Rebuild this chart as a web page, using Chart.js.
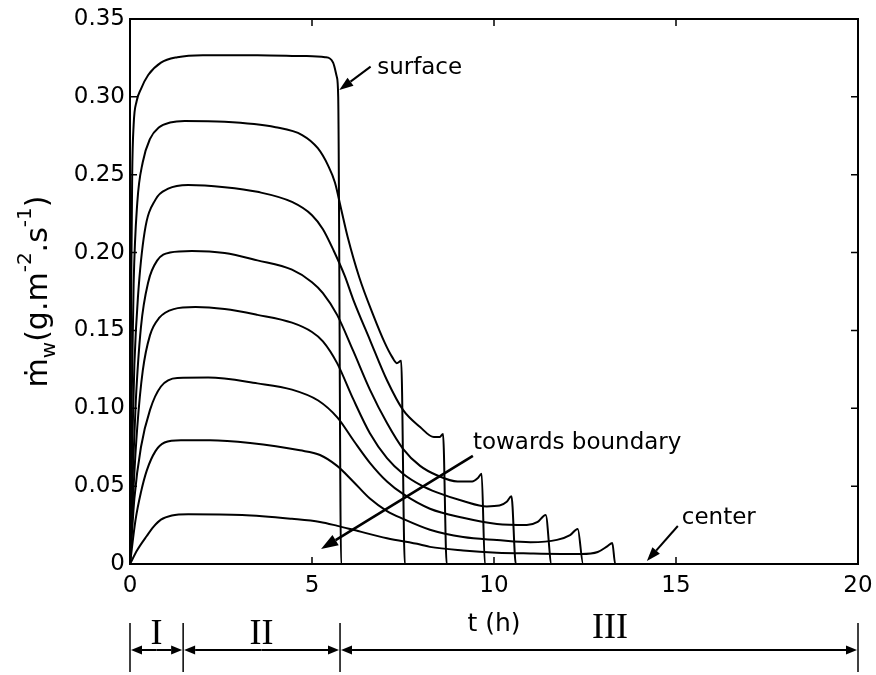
<!DOCTYPE html>
<html><head><meta charset="utf-8">
<script src="https://cdn.jsdelivr.net/npm/chart.js@4.4.1/dist/chart.umd.min.js"></script>
<style>html,body{margin:0;padding:0;background:#fff;}canvas{display:block;}</style>
</head><body>
<canvas id="c" width="876" height="675"></canvas>
<script>
// ---- tick values ----
const xTickValues = [0, 5, 10, 15, 20];
const yTickValues = [0, 0.05, 0.10, 0.15, 0.20, 0.25, 0.30, 0.35];

// ---- series: time (h) and flux (g.m-2.s-1), from surface (1) to center (8) ----
const curve1Time = [0, 0.03, 0.06, 0.1, 0.18, 0.3, 0.5, 0.85, 1.3, 2.0, 3.5, 4.8, 5.36, 5.58, 5.68, 5.72, 5.8, 20];
const curve1Flux = [0, 0.17, 0.25, 0.282, 0.297, 0.305, 0.314, 0.322, 0.3255, 0.3268, 0.3268, 0.3262, 0.3255, 0.322, 0.313, 0.300, 0, 0];

const curve2Time = [0, 0.05, 0.1, 0.2, 0.35, 0.55, 0.8, 1.1, 1.5, 2.6, 4.0, 4.73, 5.16, 5.44, 5.63, 5.8, 5.98, 6.3, 6.68, 7.0, 7.2, 7.33, 7.45, 7.55, 20];
const curve2Flux = [0, 0.11, 0.18, 0.232, 0.258, 0.273, 0.2805, 0.2835, 0.2845, 0.284, 0.2805, 0.2755, 0.267, 0.256, 0.245, 0.228, 0.210, 0.184, 0.160, 0.142, 0.133, 0.129, 0.1305, 0, 0];

const curve3Time = [0, 0.06, 0.12, 0.22, 0.4, 0.7, 1.05, 1.6, 2.6, 3.5, 4.45, 5.0, 5.3, 5.6, 5.9, 6.13, 6.59, 7.06, 7.5, 7.97, 8.35, 8.5, 8.6, 8.7, 20];
const curve3Flux = [0, 0.075, 0.128, 0.172, 0.213, 0.234, 0.241, 0.2434, 0.242, 0.239, 0.2325, 0.224, 0.215, 0.201, 0.185, 0.170, 0.144, 0.118, 0.099, 0.088, 0.0815, 0.0815, 0.0835, 0, 0];

const curve4Time = [0, 0.08, 0.16, 0.3, 0.5, 0.75, 1.1, 1.7, 2.6, 3.5, 4.45, 5.0, 5.3, 5.69, 6.13, 6.59, 7.06, 7.5, 7.97, 8.43, 9.0, 9.4, 9.55, 9.66, 9.75, 20];
const curve4Flux = [0, 0.06, 0.105, 0.152, 0.181, 0.195, 0.2, 0.201, 0.1997, 0.195, 0.189, 0.181, 0.174, 0.160, 0.137, 0.112, 0.0905, 0.074, 0.063, 0.057, 0.053, 0.053, 0.055, 0.058, 0, 0];

const curve5Time = [0, 0.1, 0.2, 0.35, 0.55, 0.8, 1.2, 1.8, 2.6, 3.5, 4.45, 5.0, 5.3, 5.69, 6.13, 6.59, 7.06, 7.5, 8.0, 8.43, 9.15, 9.8, 10.15, 10.35, 10.48, 10.6, 20];
const curve5Flux = [0, 0.05, 0.088, 0.124, 0.147, 0.158, 0.1637, 0.165, 0.1637, 0.160, 0.155, 0.149, 0.143, 0.129, 0.106, 0.084, 0.068, 0.058, 0.0505, 0.046, 0.0405, 0.037, 0.0375, 0.040, 0.0435, 0, 0];

const curve6Time = [0, 0.12, 0.3, 0.55, 0.85, 1.3, 2.15, 3.5, 4.45, 5.17, 5.7, 6.15, 6.59, 7.06, 7.5, 8.24, 9.15, 10.08, 10.9, 11.2, 11.42, 11.58, 20];
const curve6Flux = [0, 0.042, 0.075, 0.099, 0.114, 0.1195, 0.1197, 0.116, 0.112, 0.105, 0.094, 0.079, 0.065, 0.053, 0.045, 0.0355, 0.0297, 0.0257, 0.025, 0.027, 0.0315, 0, 0];

const curve7Time = [0, 0.15, 0.3, 0.46, 0.7, 0.95, 1.4, 2.2, 3.3, 4.67, 5.22, 5.69, 6.13, 6.59, 7.06, 7.5, 8.24, 9.15, 10.08, 11.0, 11.73, 12.09, 12.3, 12.45, 20];
const curve7Flux = [0, 0.028, 0.046, 0.060, 0.0725, 0.078, 0.0795, 0.0795, 0.0777, 0.073, 0.070, 0.063, 0.053, 0.042, 0.034, 0.029, 0.022, 0.0173, 0.0154, 0.014, 0.0155, 0.0186, 0.0225, 0, 0];

const curve8Time = [0, 0.2, 0.46, 0.65, 0.85, 1.15, 1.6, 3.08, 4.45, 5.22, 5.7, 6.13, 7.06, 7.97, 8.24, 9.15, 10.08, 11.0, 12.4, 12.85, 13.12, 13.25, 13.33, 20];
const curve8Flux = [0, 0.009, 0.018, 0.024, 0.0285, 0.0312, 0.032, 0.0315, 0.029, 0.027, 0.0245, 0.022, 0.0165, 0.0125, 0.011, 0.0087, 0.0073, 0.0068, 0.0064, 0.0077, 0.0115, 0.0135, 0, 0];

// ---- drying phases (h) ----
const phaseBounds = [0, 1.46, 5.77, 20];
const phaseLabels = ['I', 'II', 'III'];

// ---- annotations (data coordinates) ----
const notes = [
  {text: 'surface', at: [6.79, 0.3147], from: [6.61, 0.3194], to: [5.75, 0.3044], head: [14, 10], lw: 2},
  {text: 'towards boundary', at: [9.42, 0.0739], from: [9.42, 0.0694], to: [5.25, 0.0096], head: [17, 12], lw: 2.6},
  {text: 'center', at: [15.16, 0.0257], from: [15.05, 0.0244], to: [14.2, 0.0019], head: [14, 10], lw: 2}
];

const curves = [
  [curve1Time, curve1Flux], [curve2Time, curve2Flux], [curve3Time, curve3Flux], [curve4Time, curve4Flux],
  [curve5Time, curve5Flux], [curve6Time, curve6Flux], [curve7Time, curve7Flux], [curve8Time, curve8Flux]
];

const FONT = "'DejaVu Sans', 'Liberation Sans', Arial, sans-serif";

function arrow(ctx, x1, y1, x2, y2, headLen, headW, lw) {
  const ang = Math.atan2(y2 - y1, x2 - x1);
  const bx = x2 - headLen * Math.cos(ang), by = y2 - headLen * Math.sin(ang);
  ctx.lineWidth = lw;
  ctx.beginPath(); ctx.moveTo(x1, y1); ctx.lineTo(bx, by); ctx.stroke();
  ctx.beginPath(); ctx.moveTo(x2, y2);
  ctx.lineTo(bx + headW / 2 * Math.sin(ang), by - headW / 2 * Math.cos(ang));
  ctx.lineTo(bx - headW / 2 * Math.sin(ang), by + headW / 2 * Math.cos(ang));
  ctx.closePath(); ctx.fill();
}

const decor = {
  id: 'decor',
  afterDraw(chart) {
    const {ctx, chartArea: a, scales: {x, y}} = chart;
    ctx.save();
    ctx.strokeStyle = '#000'; ctx.fillStyle = '#000';
    // box
    ctx.lineWidth = 2;
    ctx.strokeRect(a.left, a.top, a.right - a.left, a.bottom - a.top);
    // inward ticks on all sides
    ctx.lineWidth = 1.5;
    x.ticks.forEach(t => {
      const px = x.getPixelForValue(t.value);
      ctx.beginPath();
      ctx.moveTo(px, a.bottom); ctx.lineTo(px, a.bottom - 7);
      ctx.moveTo(px, a.top); ctx.lineTo(px, a.top + 7);
      ctx.stroke();
    });
    y.ticks.forEach(t => {
      const py = y.getPixelForValue(t.value);
      ctx.beginPath();
      ctx.moveTo(a.left, py); ctx.lineTo(a.left + 7, py);
      ctx.moveTo(a.right, py); ctx.lineTo(a.right - 7, py);
      ctx.stroke();
    });
    // annotations
    ctx.font = '23px ' + FONT;
    ctx.textBaseline = 'alphabetic'; ctx.textAlign = 'left';
    notes.forEach(n => {
      ctx.fillText(n.text, x.getPixelForValue(n.at[0]), y.getPixelForValue(n.at[1]));
      arrow(ctx, x.getPixelForValue(n.from[0]), y.getPixelForValue(n.from[1]),
        x.getPixelForValue(n.to[0]), y.getPixelForValue(n.to[1]), n.head[0], n.head[1], n.lw);
    });
    // phases below axis
    const barTop = a.bottom + 59, barBot = a.bottom + 108, ay = a.bottom + 86;
    const px = phaseBounds.map(v => x.getPixelForValue(v));
    ctx.lineWidth = 1.5;
    px.forEach(p => { ctx.beginPath(); ctx.moveTo(p, barTop); ctx.lineTo(p, barBot); ctx.stroke(); });
    for (let i = 0; i < px.length - 1; i++) {
      const l = px[i] + 1, r = px[i + 1] - 1, m = (l + r) / 2;
      arrow(ctx, m, ay, l, ay, 11, 9, 2);
      arrow(ctx, m, ay, r, ay, 11, 9, 2);
    }
    ctx.font = '36px "Liberation Serif", "DejaVu Serif", serif';
    ctx.textAlign = 'center'; ctx.textBaseline = 'alphabetic';
    const labelX = [(px[0] + px[1]) / 2, (px[1] + px[2]) / 2, (px[2] + px[3]) / 2 + 11];
    const labelY = [a.bottom + 80, a.bottom + 80, a.bottom + 74];
    phaseLabels.forEach((s, i) => ctx.fillText(s, labelX[i], labelY[i]));
    // y-axis title with sub/superscripts
    const F = 30;
    const segs = [
      {t: '\u1E41', s: 1, dy: 0}, {t: 'w', s: 0.65, dy: 0.28}, {t: '(g.m', s: 1, dy: 0},
      {t: '-2', s: 0.65, dy: -0.55}, {t: '.s', s: 1, dy: 0}, {t: '-1', s: 0.65, dy: -0.55}, {t: ')', s: 1, dy: 0}
    ];
    let total = 0;
    segs.forEach(sg => { ctx.font = Math.round(F * sg.s) + 'px ' + FONT; sg.w = ctx.measureText(sg.t).width; total += sg.w; });
    ctx.translate(47, (a.top + a.bottom) / 2);
    ctx.rotate(-Math.PI / 2);
    ctx.textAlign = 'left';
    let cx = -total / 2;
    segs.forEach(sg => {
      ctx.font = Math.round(F * sg.s) + 'px ' + FONT;
      ctx.fillText(sg.t, cx, sg.dy * F);
      cx += sg.w;
    });
    ctx.restore();
  }
};

new Chart(document.getElementById('c'), {
  type: 'line',
  data: {
    datasets: curves.map(([ts, vs]) => ({
      data: ts.map((t, i) => ({x: t, y: vs[i]})),
      borderColor: '#000', borderWidth: 2, pointRadius: 0, fill: false,
      cubicInterpolationMode: 'monotone'
    }))
  },
  options: {
    responsive: false, animation: false, devicePixelRatio: 1,
    layout: {padding: {top: 19, right: 18, left: 0, bottom: 0}},
    plugins: {legend: {display: false}, tooltip: {enabled: false}},
    scales: {
      x: {
        type: 'linear', min: 0, max: 20,
        afterBuildTicks: s => { s.ticks = xTickValues.map(v => ({value: v})); },
        afterFit: s => { s.height = 111; s.paddingLeft = 0; s.paddingRight = 0; },
        grid: {display: false, drawTicks: false}, border: {display: false},
        ticks: {color: '#000', font: {size: 23, family: FONT}, padding: 8, maxRotation: 0,
          callback: v => String(v)},
        title: {display: true, text: 't (h)', color: '#000', font: {size: 25, family: FONT},
          padding: {top: 0, bottom: 36}}
      },
      y: {
        type: 'linear', min: 0, max: 0.35,
        afterBuildTicks: s => { s.ticks = yTickValues.map(v => ({value: v})); },
        afterFit: s => { s.width = 130; s.paddingTop = 0; s.paddingBottom = 0; },
        grid: {display: false, drawTicks: false}, border: {display: false},
        ticks: {color: '#000', font: {size: 23, family: FONT}, padding: 5,
          callback: v => (v === 0 ? '0' : v.toFixed(2))}
      }
    }
  },
  plugins: [decor]
});
</script>
</body></html>
